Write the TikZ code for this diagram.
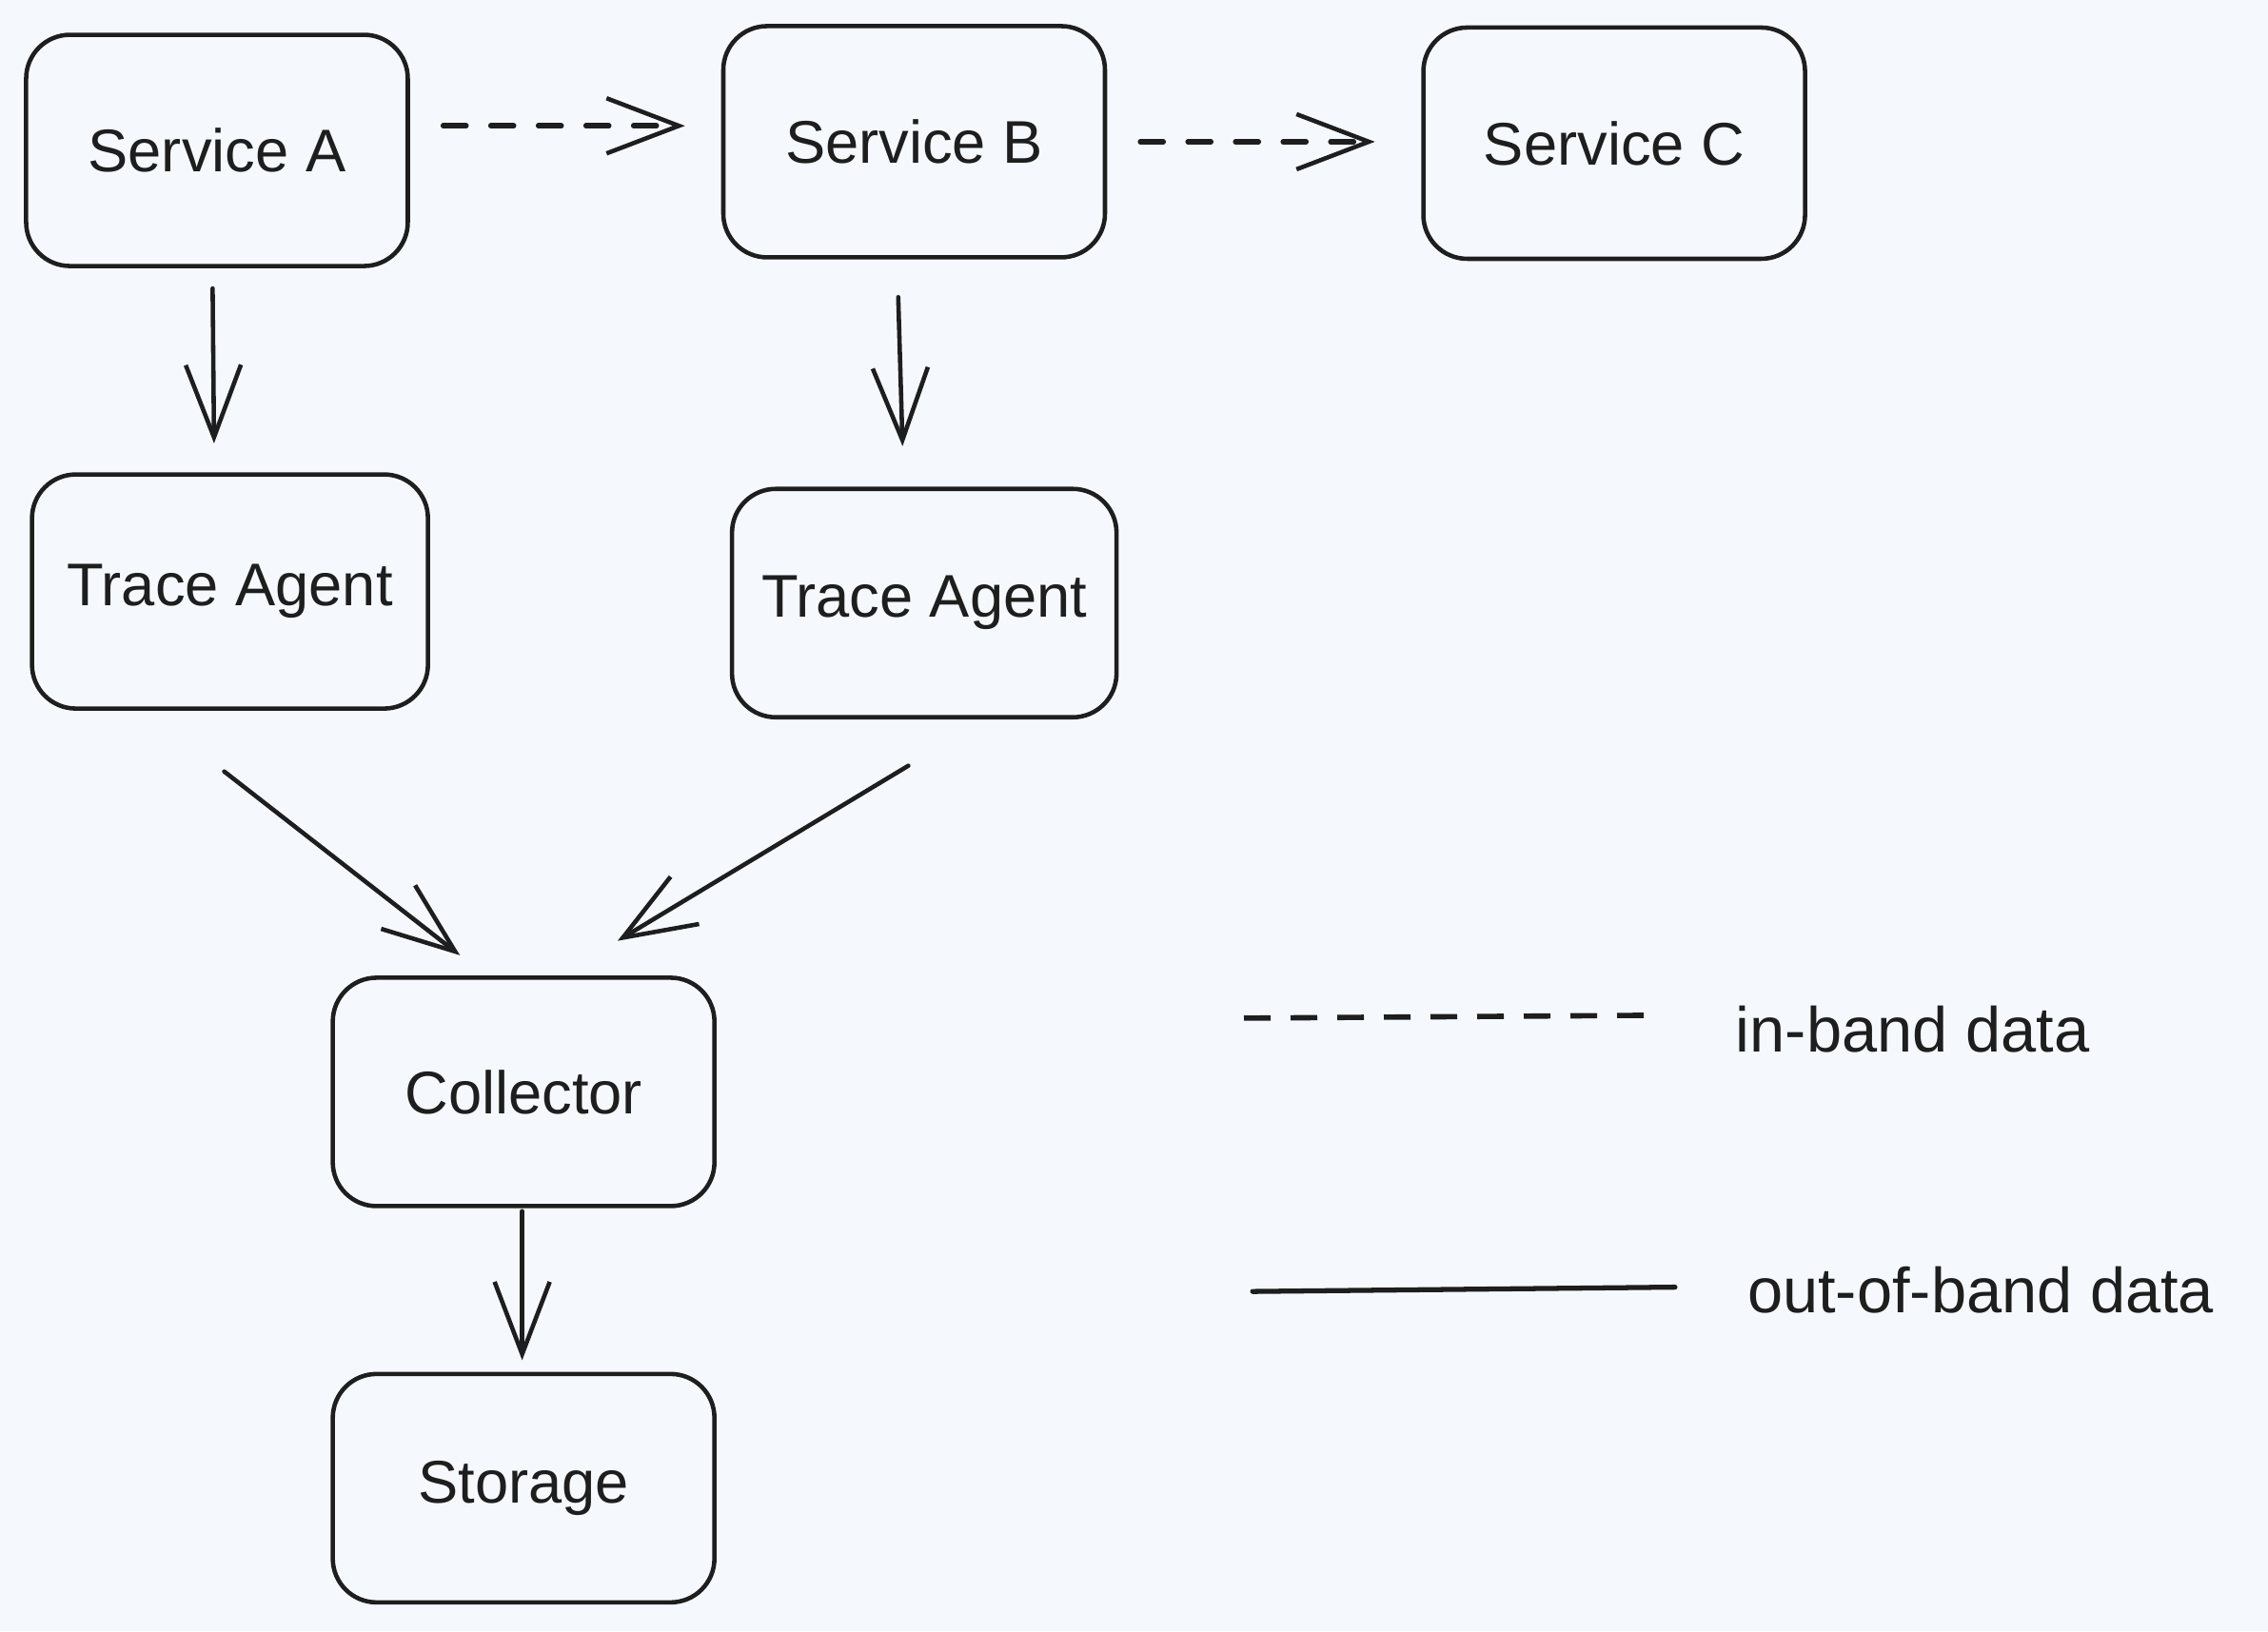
\documentclass[tikz,border=0pt]{standalone}
\usepackage{fontspec}
\setmainfont{Liberation Sans}
\usepackage{tikz}
\usetikzlibrary{calc}
\usetikzlibrary{arrows.meta}
\usetikzlibrary{positioning}
\definecolor{paper}{RGB}{245, 249, 253}
\definecolor{ink}{RGB}{30, 30, 30}

\tikzset{
    service/.style   = {draw=ink, line width=1.3pt, rounded corners=4.6mm, align=center,
                        minimum width=4.01cm, minimum height=2.43cm, text=ink,
                        font=\fontsize{18}{22}\selectfont},
    flow/.style      = {draw=ink, line width=1.3pt, line cap=round,
                        -{Straight Barb[length=7.6mm,width=5.8mm,line width=1.3pt]}},
    inband/.style    = {flow, line width=1.6pt, dash pattern=on 2.4mm off 2.6mm},
    legendtxt/.style = {anchor=west, text=ink, font=\fontsize{19}{23}\selectfont}
}

\begin{document}
\begin{tikzpicture}[x=0.015198cm, y=-0.015198cm]
        \useasboundingbox[fill=paper] (0,0) rectangle (1568,1128);
        \node[service]                                      (svcA)  at ( 150, 104) {Service A};
        \node[service]                                      (svcB)  at ( 632,  98) {Service B};
        \node[service]                                      (svcC)  at (1116,  99) {Service C};
        \node[service, minimum width=4.16cm, minimum height=2.46cm] (agentA) at ( 159, 409) {Trace Agent};
        \node[service, minimum width=4.04cm, minimum height=2.40cm] (agentB) at ( 639, 417) {Trace Agent};
        \node[service, minimum height=2.40cm]               (coll)  at ( 362, 755) {Collector};
        \node[service, minimum height=2.40cm]               (store) at ( 362,1029) {Storage};
        \node[legendtxt]                                    (inlbl)  at (1192, 712) {in-band data};
        \node[legendtxt]                                    (outlbl) at (1200, 892) {out-of-band data};
        % in-band calls between services
        \draw[inband] ($(svcA.east)+(23,-17)$)   -- ($(svcB.west)+(-25,-11)$);
        \draw[inband] ($(svcB.east)+(23,0)$)     -- ($(svcC.west)+(-32,-1)$);
        % out-of-band reporting
        \draw[flow]   ($(svcA.south)+(-3,14)$)   -- ($(agentA.north)+(-11,-20)$);
        \draw[flow]   ($(svcB.south)+(-11,26)$)  -- ($(agentB.north)+(-15,-28)$);
        \draw[flow]   ($(agentA.south)+(-4,42)$) -- ($(coll.north)+(-44,-14)$);
        \draw[flow]   ($(agentB.south)+(-11,32)$) -- ($(coll.north)+(65,-24)$);
        \draw[flow]   ($(coll.south)+(-1,2)$)    -- ($(store.north)+(-1,-8)$);
        % legend
        \coordinate (inL)  at ( 860, 704);
        \coordinate (inR)  at (1145, 702);
        \coordinate (outL) at ( 866, 893);
        \coordinate (outR) at (1158, 890);
        \draw[draw=ink, line width=1.6pt, dash pattern=on 2.8mm off 2.1mm] (inL) -- (inR);
        \draw[draw=ink, line width=1.5pt, line cap=round]                   (outL) -- (outR);
        \end{tikzpicture}
\end{document}
